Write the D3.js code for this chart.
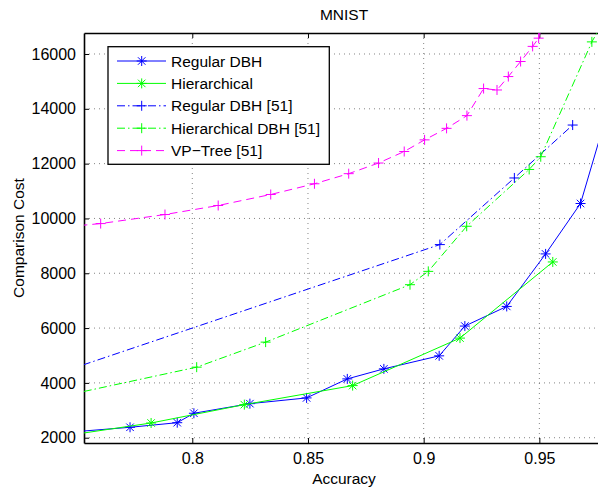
<!DOCTYPE html>
<html>
<head>
<meta charset="utf-8">
<script src="https://cdn.jsdelivr.net/npm/d3@7"></script>
<style>
  body { margin: 0; background: #fff; }
  svg { display: block; font-family: "Liberation Sans", Arial, sans-serif; }
</style>
</head>
<body>
<script>
// data (accuracy, comparison cost)
const regularX = [0.745, 0.7731, 0.7935, 0.8007, 0.8249, 0.8494, 0.8670, 0.8828, 0.9067, 0.9178, 0.9359, 0.9527, 0.9678, 0.980];
const regularY = [2190, 2380, 2548, 2892, 3243, 3452, 4146, 4512, 4987, 6073, 6790, 8706, 10545, 14044];

const hierX = [0.745, 0.7822, 0.8225, 0.8693, 0.9157, 0.9558];
const hierY = [2070, 2537, 3207, 3901, 5634, 8413];

const regular51X = [0.740, 0.9070, 0.9392, 0.9644];
const regular51Y = [4292, 9046, 11477, 13408];

const hier51X = [0.740, 0.8019, 0.8317, 0.8941, 0.9020, 0.9186, 0.9456, 0.9506, 0.9727, 0.980];
const hier51Y = [3448, 4574, 5488, 7583, 8069, 9715, 11788, 12252, 16442, 17540];

const vpX = [0.740, 0.7604, 0.7882, 0.8112, 0.8339, 0.8528, 0.8676, 0.8805, 0.8916, 0.9004, 0.9099, 0.9187, 0.9259, 0.9317, 0.9366, 0.9419, 0.9471, 0.9497, 0.952];
const vpY = [9652, 9813, 10143, 10472, 10874, 11265, 11634, 12022, 12442, 12867, 13287, 13751, 14739, 14687, 15177, 15726, 16278, 16578, 17300];

const xTicks = [0.8, 0.85, 0.9, 0.95];
const yTicks = [2000, 4000, 6000, 8000, 10000, 12000, 14000, 16000];

const series = [
  { name: "Regular DBH", xs: regularX, ys: regularY, color: "#0000ff", dash: null, marker: "star" },
  { name: "Hierarchical", xs: hierX, ys: hierY, color: "#00ff00", dash: null, marker: "star" },
  { name: "Regular DBH [51]", xs: regular51X, ys: regular51Y, color: "#0000ff", dash: "8,3,1.5,3", marker: "plus" },
  { name: "Hierarchical DBH [51]", xs: hier51X, ys: hier51Y, color: "#00ff00", dash: "8,3,1.5,3", marker: "plus" },
  { name: "VP\u2212Tree [51]", xs: vpX, ys: vpY, color: "#ff00ff", dash: "8,5", marker: "plus" }
];

const W = 598, H = 491;
const mLeft = 84, mTop = 33, mBottom = 443, mRight = 600.2;

const svg = d3.select("body").append("svg").attr("width", W).attr("height", H);

const x = d3.scaleLinear().domain([0.7532, 0.9763]).range([mLeft, mRight]);
const y = d3.scaleLinear().domain([1807, 16766]).range([mBottom, mTop]);

svg.append("clipPath").attr("id", "plot")
  .append("rect").attr("x", mLeft).attr("y", mTop).attr("width", mRight - mLeft).attr("height", mBottom - mTop);

// grid
const grid = svg.append("g").attr("stroke", "#000").attr("stroke-width", 0.8).attr("stroke-dasharray", "1,4").attr("opacity", 0.6);
grid.selectAll(".gx").data(xTicks).enter().append("line")
  .attr("x1", d => x(d)).attr("x2", d => x(d)).attr("y1", mTop).attr("y2", mBottom);
grid.selectAll(".gy").data(yTicks).enter().append("line")
  .attr("x1", mLeft).attr("x2", mRight).attr("y1", d => y(d)).attr("y2", d => y(d));

// axes, ticks inward like matlab
const xAxis = d3.axisBottom(x).tickValues(xTicks).tickSizeInner(-5).tickSizeOuter(0).tickPadding(10).tickFormat(d3.format("~g"));
const yAxis = d3.axisLeft(y).tickValues(yTicks).tickSizeInner(-5).tickSizeOuter(0).tickPadding(8).tickFormat(d3.format("d"));
const xTop = d3.axisTop(x).tickValues(xTicks).tickSizeInner(-5).tickSizeOuter(0).tickFormat("");

const gx = svg.append("g").attr("transform", "translate(0," + mBottom + ")").call(xAxis);
const gy = svg.append("g").attr("transform", "translate(" + mLeft + ",0)").call(yAxis);
const gt = svg.append("g").attr("transform", "translate(0," + mTop + ")").call(xTop);
[gx, gy, gt].forEach(g => {
  g.selectAll("path").attr("stroke", "#000").attr("stroke-width", 1.6);
  g.selectAll("line").attr("stroke", "#000").attr("stroke-width", 1);
  g.selectAll("text").attr("fill", "#000").attr("font-size", 16).attr("font-family", "Liberation Sans, Arial, sans-serif");
});

function drawMarker(g, kind, cx, cy, color) {
  const s = 5;
  const m = g.append("g").attr("transform", "translate(" + cx + "," + cy + ")")
    .attr("stroke", color).attr("stroke-width", 1).attr("fill", "none");
  m.append("line").attr("x1", -s).attr("x2", s).attr("y1", 0).attr("y2", 0);
  m.append("line").attr("x1", 0).attr("x2", 0).attr("y1", -s).attr("y2", s);
  if (kind === "star") {
    const d = s * 0.75;
    m.append("line").attr("x1", -d).attr("x2", d).attr("y1", -d).attr("y2", d);
    m.append("line").attr("x1", -d).attr("x2", d).attr("y1", d).attr("y2", -d);
  }
}

const plot = svg.append("g").attr("clip-path", "url(#plot)");
const line = d3.line().x(d => x(d[0])).y(d => y(d[1]));

series.forEach(s => {
  const pts = s.xs.map((v, i) => [v, s.ys[i]]);
  plot.append("path").datum(pts)
    .attr("d", line)
    .attr("fill", "none")
    .attr("stroke", s.color)
    .attr("stroke-width", 1)
    .attr("stroke-dasharray", s.dash);
  pts.forEach((p, i) => {
    if (i === 0) return; // first point sits left of the visible axis
    drawMarker(plot, s.marker, x(p[0]), y(p[1]), s.color);
  });
});

// title and labels
svg.append("text").attr("x", 344).attr("y", 20).attr("text-anchor", "middle")
  .attr("font-size", 15.5).text("MNIST");
svg.append("text").attr("x", 344).attr("y", 484).attr("text-anchor", "middle")
  .attr("font-size", 15.5).text("Accuracy");
svg.append("text").attr("transform", "translate(24," + (mTop + mBottom) / 2 + ") rotate(-90)")
  .attr("text-anchor", "middle").attr("font-size", 15.5).text("Comparison Cost");

// legend
const lg = svg.append("g");
lg.append("rect").attr("x", 108).attr("y", 46.7).attr("width", 221.3).attr("height", 117.6)
  .attr("fill", "#fff").attr("stroke", "#000").attr("stroke-width", 1.3);
series.forEach((s, i) => {
  const ly = 61 + i * 22.4;
  lg.append("line").attr("x1", 117).attr("x2", 166).attr("y1", ly).attr("y2", ly)
    .attr("stroke", s.color).attr("stroke-width", 1).attr("stroke-dasharray", s.dash);
  drawMarker(lg, s.marker, 141.7, ly, s.color);
  lg.append("text").attr("x", 171).attr("y", ly + 5.5).attr("font-size", 15.5).text(s.name);
});
</script>
</body>
</html>
